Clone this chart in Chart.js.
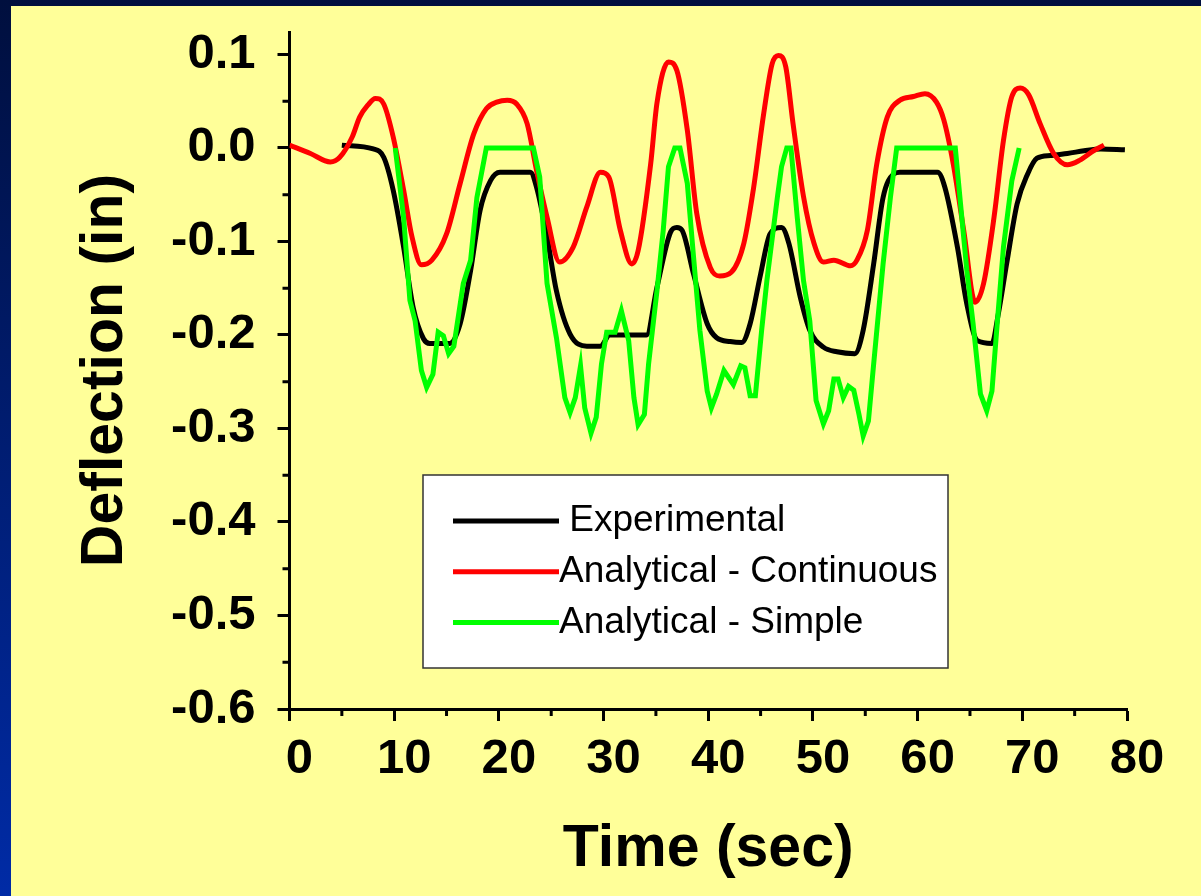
<!DOCTYPE html>
<html>
<head>
<meta charset="utf-8">
<title>Deflection vs Time</title>
<script src="https://cdn.jsdelivr.net/npm/chart.js@4.4.1/dist/chart.umd.min.js"></script>
<style>
    html, body { margin: 0; padding: 0; background: #ffff99; overflow: hidden; }
    canvas { display: block; }
</style>
</head>
<body>
<canvas id="chart" width="1201" height="896"></canvas>
<script>
const CHART = document.getElementById("chart").getContext("2d");

// Experimental
const expTime = [
    5.0, 8.0, 9.0, 9.9, 10.9, 11.8, 12.8, 13.4, 15.3, 16.3,
    17.3, 18.2, 19.2, 20.1, 23.0, 23.6, 24.6, 25.5, 26.8, 28.4,
    29.7, 30.6, 34.1, 35.1, 36.4, 37.0, 37.5, 38.6, 39.9, 40.8,
    42.1, 43.2, 44.0, 45.0, 45.9, 47.0, 47.7, 48.8, 49.7, 51.0,
    52.3, 54.0, 54.8, 55.8, 56.7, 57.7, 58.3, 61.9, 62.6, 63.8,
    64.7, 65.7, 67.1, 67.7, 68.5, 69.5, 70.5, 71.4, 72.7, 74.3,
    75.9, 77.5, 79.8
];
const expDefl = [
    0.003, -0.001, -0.010, -0.045, -0.106, -0.170, -0.204, -0.209, -0.209, -0.188,
    -0.131, -0.067, -0.035, -0.026, -0.026, -0.042, -0.095, -0.153, -0.199, -0.212,
    -0.212, -0.200, -0.200, -0.149, -0.090, -0.085, -0.088, -0.135, -0.188, -0.203,
    -0.207, -0.208, -0.188, -0.135, -0.092, -0.085, -0.102, -0.160, -0.195, -0.213,
    -0.218, -0.220, -0.195, -0.124, -0.053, -0.028, -0.026, -0.026, -0.042, -0.106,
    -0.167, -0.206, -0.209, -0.178, -0.124, -0.060, -0.028, -0.011, -0.008, -0.006,
    -0.003, -0.001, -0.002
];

// Analytical - Continuous
const contTime = [
    0.0, 2.0, 3.9, 4.8, 6.0, 6.7, 7.5, 8.2, 9.0, 9.9,
    10.9, 11.7, 12.6, 13.6, 15.0, 16.3, 17.6, 18.8, 19.8, 20.8,
    21.7, 22.7, 23.6, 24.6, 25.8, 27.1, 28.4, 29.7, 30.5, 31.6,
    32.7, 33.3, 34.5, 35.1, 36.2, 37.0, 38.0, 38.9, 40.2, 41.1,
    42.2, 43.4, 44.3, 45.3, 46.1, 46.7, 47.4, 48.1, 49.1, 50.1,
    51.0, 52.0, 53.6, 54.2, 55.2, 56.1, 57.1, 58.3, 59.6, 60.7,
    61.8, 62.5, 63.4, 64.4, 65.5, 66.3, 67.3, 68.2, 69.0, 69.8,
    70.6, 71.7, 73.0, 74.3, 75.5, 76.8, 77.8
];
const contDefl = [
    0.003, -0.006, -0.015, -0.010, 0.012, 0.033, 0.046, 0.053, 0.047, 0.012,
    -0.045, -0.095, -0.125, -0.120, -0.092, -0.038, 0.015, 0.042, 0.049, 0.051,
    0.047, 0.026, -0.024, -0.074, -0.122, -0.106, -0.063, -0.026, -0.031, -0.088,
    -0.124, -0.110, -0.017, 0.048, 0.092, 0.083, 0.019, -0.070, -0.128, -0.137,
    -0.133, -0.102, -0.045, 0.037, 0.090, 0.099, 0.087, 0.026, -0.052, -0.102,
    -0.122, -0.120, -0.126, -0.120, -0.088, -0.017, 0.033, 0.051, 0.055, 0.058,
    0.049, 0.030, -0.017, -0.088, -0.165, -0.145, -0.074, 0.008, 0.055, 0.064,
    0.057, 0.026, -0.006, -0.018, -0.013, -0.003, 0.003
];

// Analytical - Simple
const simpTime = [
    10.1, 10.9, 11.5, 12.0, 12.6, 13.1, 13.7, 14.2, 14.7, 15.2,
    15.7, 16.6, 17.3, 17.9, 18.8, 23.3, 23.9, 24.6, 25.5, 26.3,
    26.8, 27.3, 27.8, 28.2, 28.8, 29.3, 29.8, 30.3, 31.1, 31.7,
    32.4, 32.9, 33.3, 33.9, 34.3, 35.1, 35.7, 36.2, 36.8, 37.3,
    38.0, 38.6, 39.2, 39.9, 40.3, 40.8, 41.5, 42.4, 43.1, 43.5,
    44.0, 44.5, 45.1, 45.6, 46.6, 47.0, 47.5, 47.9, 48.5, 49.1,
    49.7, 50.3, 51.0, 51.5, 52.0, 52.4, 52.9, 53.4, 53.9, 54.4,
    54.8, 55.3, 55.8, 56.7, 57.4, 58.0, 63.6, 64.1, 64.7, 65.3,
    66.0, 66.6, 67.1, 67.6, 68.2, 69.0, 69.7
];
const simpDefl = [
    0.000, -0.074, -0.163, -0.185, -0.238, -0.256, -0.242, -0.197, -0.201, -0.220,
    -0.212, -0.145, -0.120, -0.053, 0.000, 0.000, -0.031, -0.145, -0.203, -0.267,
    -0.283, -0.267, -0.233, -0.278, -0.305, -0.288, -0.231, -0.197, -0.197, -0.174,
    -0.206, -0.267, -0.296, -0.285, -0.231, -0.153, -0.088, -0.020, 0.000, 0.000,
    -0.038, -0.117, -0.195, -0.260, -0.278, -0.263, -0.238, -0.253, -0.233, -0.235,
    -0.265, -0.265, -0.195, -0.142, -0.053, -0.020, 0.000, 0.000, -0.074, -0.142,
    -0.185, -0.270, -0.295, -0.281, -0.247, -0.247, -0.267, -0.255, -0.259, -0.285,
    -0.308, -0.292, -0.231, -0.124, -0.053, 0.000, 0.000, -0.060, -0.131, -0.188,
    -0.263, -0.281, -0.260, -0.188, -0.106, -0.035, 0.000
];

const xTicks = [0, 10, 20, 30, 40, 50, 60, 70, 80];
const xMinorTicks = [5, 15, 25, 35, 45, 55, 65, 75];
const yTicks = [-0.6, -0.5, -0.4, -0.3, -0.2, -0.1, 0.0, 0.1];
const yMinorTicks = [-0.55, -0.45, -0.35, -0.25, -0.15, -0.05, 0.05];

function toPoints(xs, ys) {
    return xs.map(function (x, i) {
        return { x: x, y: ys[i] };
    });
}

const FONT = "'Liberation Sans', Arial, Helvetica, sans-serif";

// slide background: blue frame with a yellow panel
const background = {
    id: "background",
    beforeDraw(chart) {
        const ctx = chart.ctx;
        ctx.save();
        let grad = ctx.createLinearGradient(0, 0, 0, chart.height);
        grad.addColorStop(0, "#000f3e");
        grad.addColorStop(1, "#002ba6");
        ctx.fillStyle = grad;
        ctx.fillRect(0, 0, chart.width, chart.height);
        ctx.fillStyle = "#ffff99";
        ctx.fillRect(11, 6, chart.width - 11, chart.height - 6);
        ctx.restore();
    }
};

// short minor tick marks between the labelled ones
const minorTicks = {
    id: "minorTicks",
    afterDraw(chart) {
        const ctx = chart.ctx;
        const area = chart.chartArea;
        ctx.save();
        ctx.strokeStyle = "#000";
        ctx.lineWidth = 3;
        ctx.beginPath();
        xMinorTicks.forEach(function (v) {
            let px = chart.scales.x.getPixelForValue(v);
            ctx.moveTo(px, area.bottom);
            ctx.lineTo(px, area.bottom + 7);
        });
        yMinorTicks.forEach(function (v) {
            let py = chart.scales.y.getPixelForValue(v);
            ctx.moveTo(area.left, py);
            ctx.lineTo(area.left - 7, py);
        });
        ctx.stroke();
        ctx.restore();
    }
};

// boxed legend sitting inside the plot
const boxLegend = {
    id: "boxLegend",
    afterDraw(chart) {
        const ctx = chart.ctx;
        ctx.save();
        ctx.fillStyle = "#ffffff";
        ctx.fillRect(423, 475, 525, 193);
        ctx.strokeStyle = "#333333";
        ctx.lineWidth = 1.5;
        ctx.strokeRect(423, 475, 525, 193);
        ctx.font = "37px " + FONT;
        ctx.textBaseline = "middle";
        ctx.textAlign = "left";
        chart.data.datasets.forEach(function (ds, i) {
            let y = 521 + i * 50.7;
            ctx.strokeStyle = ds.borderColor;
            ctx.lineWidth = 5;
            ctx.beginPath();
            ctx.moveTo(453, y);
            ctx.lineTo(559, y);
            ctx.stroke();
            ctx.fillStyle = "#000";
            ctx.fillText(ds.label, 559, y);
        });
        ctx.restore();
    }
};

let lineChart = new Chart(CHART, {
    type: "line",
    data: {
        datasets: [
            {
                label: " Experimental",
                data: toPoints(expTime, expDefl),
                borderColor: "#000000",
                borderWidth: 5,
                cubicInterpolationMode: "monotone",
                pointRadius: 0,
                order: 2,
            },
            {
                label: "Analytical - Continuous",
                data: toPoints(contTime, contDefl),
                borderColor: "#ff0000",
                borderWidth: 5,
                cubicInterpolationMode: "monotone",
                pointRadius: 0,
                order: 1,
            },
            {
                label: "Analytical - Simple",
                data: toPoints(simpTime, simpDefl),
                borderColor: "#00ff00",
                borderWidth: 5,
                tension: 0,
                pointRadius: 0,
                order: 0,
            }
        ]
    },
    options: {
        responsive: false,
        animation: false,
        devicePixelRatio: 1,
        layout: { padding: { top: 32, right: 74, bottom: 0, left: 0 } },
        plugins: {
            legend: { display: false },
            tooltip: { enabled: false },
        },
        scales: {
            x: {
                type: "linear",
                min: 0,
                max: 80,
                afterBuildTicks: function (scale) {
                    scale.ticks = xTicks.map(function (v) { return { value: v }; });
                },
                afterFit: function (scale) {
                    scale.height = 187;
                    scale.paddingLeft = 0;
                    scale.paddingRight = 0;
                },
                grid: { drawOnChartArea: false, tickLength: 12, tickWidth: 3, tickColor: "#000" },
                border: { color: "#000", width: 3 },
                ticks: {
                    autoSkip: false,
                    maxRotation: 0,
                    padding: 9,
                    labelOffset: 10,
                    color: "#000",
                    font: { family: FONT, size: 49, weight: "bold" },
                },
                title: {
                    display: true,
                    text: "Time (sec)",
                    color: "#000",
                    padding: { top: 0, bottom: 10.6 },
                    font: { family: FONT, size: 59, weight: "bold" },
                }
            },
            y: {
                min: -0.6,
                max: 0.124,
                afterBuildTicks: function (scale) {
                    scale.ticks = yTicks.map(function (v) { return { value: v }; });
                },
                afterFit: function (scale) {
                    scale.width = 289.5;
                    scale.paddingTop = 0;
                    scale.paddingBottom = 0;
                },
                grid: { drawOnChartArea: false, tickLength: 12, tickWidth: 3, tickColor: "#000" },
                border: { color: "#000", width: 3 },
                ticks: {
                    autoSkip: false,
                    padding: 22,
                    color: "#000",
                    font: { family: FONT, size: 49, weight: "bold" },
                    callback: function (v) { return v.toFixed(1); },
                },
                title: {
                    display: true,
                    text: "Deflection (in)",
                    color: "#000",
                    padding: { top: 70.6, bottom: 0 },
                    font: { family: FONT, size: 59, weight: "bold" },
                }
            }
        }
    },
    plugins: [background, minorTicks, boxLegend]
});
</script>
</body>
</html>
